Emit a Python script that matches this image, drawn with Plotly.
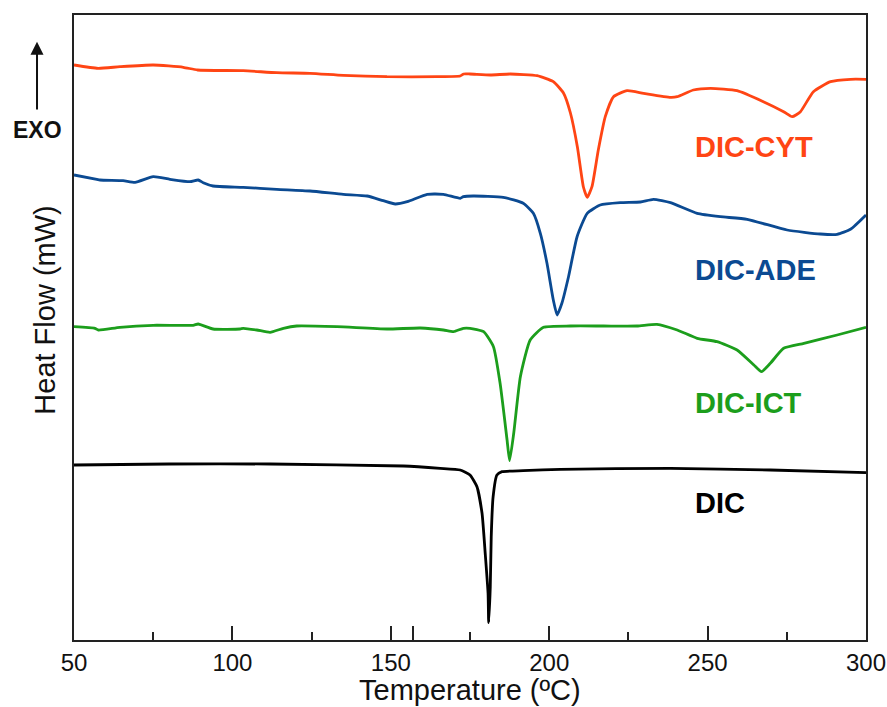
import plotly.graph_objects as go

# ---- data (temperature in °C, heat flow in arbitrary mW units, offset per curve) ----
cyt_T = [50, 57.6, 64.5, 75, 84.5, 89, 103.4, 114, 124.5, 135, 148.8, 164.6, 171.9, 173, 175,
         181.4, 187.7, 196.2, 201.3, 204.5, 206.7, 208.9, 210.8, 212, 213.5, 215.5, 217.7, 220.3,
         224.6, 229.8, 238.3, 240.4, 245.5, 250.9, 259.3, 267.6, 274, 276.7, 279.3, 283.4, 288.8,
         295.1, 300]
cyt_HF = [5.75, 5.717, 5.733, 5.75, 5.727, 5.70, 5.693, 5.673, 5.667, 5.647, 5.633, 5.633, 5.64,
          5.66, 5.66, 5.65, 5.66, 5.643, 5.583, 5.47, 5.27, 4.93, 4.53, 4.427, 4.533, 4.90, 5.233,
          5.433, 5.493, 5.467, 5.427, 5.433, 5.50, 5.517, 5.493, 5.383, 5.283, 5.233, 5.283, 5.483,
          5.583, 5.607, 5.607]

ade_T = [50, 57.2, 58.2, 65.5, 69.3, 75, 80.3, 86.6, 89.2, 90.8, 93.9, 103.4, 114, 124.5, 135,
         142.5, 147.6, 151.4, 155.2, 161.5, 166.6, 171.9, 172.9, 176, 185.5, 191.8, 195, 197.2,
         199.3, 201.3, 202.5, 204, 206.1, 208.8, 212, 216.1, 222.5, 228.8, 232.9, 238.3, 246.7,
         254, 262.5, 275.1, 285.6, 290.9, 295.1, 300]
ade_HF = [4.65, 4.607, 4.60, 4.593, 4.577, 4.633, 4.607, 4.583, 4.60, 4.573, 4.54, 4.527, 4.507,
          4.49, 4.457, 4.44, 4.393, 4.36, 4.383, 4.457, 4.457, 4.417, 4.433, 4.44, 4.427, 4.367,
          4.267, 4.067, 3.767, 3.40, 3.25, 3.367, 3.633, 4.033, 4.267, 4.35, 4.373, 4.38, 4.407,
          4.373, 4.267, 4.233, 4.207, 4.10, 4.06, 4.057, 4.107, 4.25]

ict_T = [50, 56.6, 57.7, 64.5, 75, 87.6, 89.2, 93.9, 102.4, 103.4, 107.7, 111.9, 116.1, 120.3,
         133, 148.8, 159.3, 166.6, 169.8, 172.9, 175, 179.3, 182.4, 184.5, 186.7, 187.5, 188.8,
         190.9, 194, 198.2, 206.7, 217.2, 227.7, 234, 240.4, 246.7, 253, 259.3, 264.6, 267,
         269.8, 274, 280.4, 290.9, 300]
ict_HF = [3.133, 3.117, 3.10, 3.127, 3.147, 3.147, 3.16, 3.11, 3.11, 3.117, 3.10, 3.077, 3.117,
          3.14, 3.133, 3.11, 3.12, 3.10, 3.083, 3.117, 3.117, 3.083, 2.933, 2.567, 2.00, 1.793,
          2.067, 2.633, 3.00, 3.127, 3.14, 3.14, 3.14, 3.157, 3.10, 3.017, 2.983, 2.90, 2.75,
          2.683, 2.767, 2.917, 2.967, 3.05, 3.127]

dic_T = [50, 80, 112, 154, 165.6, 171.9, 175, 177.2, 178.8, 179.8, 180.7, 180.9, 181.4, 181.7,
         182.3, 183.5, 185.1, 191.8, 203.5, 238.3, 269.8, 300]
dic_HF = [1.75, 1.76, 1.76, 1.74, 1.717, 1.70, 1.65, 1.533, 1.267, 0.867, 0.467, 0.173, 0.533,
          1.033, 1.433, 1.65, 1.683, 1.693, 1.707, 1.717, 1.70, 1.673]

series_names = ["DIC-CYT", "DIC-ADE", "DIC-ICT", "DIC"]
series_colors = ["#ff4514", "#0b4a92", "#1c9e1c", "#000000"]
label_y = [4.93, 3.70, 2.37, 1.37]

x_ticks = [50, 100, 150, 157, 200, 250, 300]
x_ticktext = ["50", "100", "150", "", "200", "250", "300"]
x_minor = [75, 125, 175, 225, 275]

FONT = "Liberation Sans, Arial, sans-serif"

fig = go.Figure()
data = [(cyt_T, cyt_HF), (ade_T, ade_HF), (ict_T, ict_HF), (dic_T, dic_HF)]
for (t, h), name, col in zip(data, series_names, series_colors):
    fig.add_trace(go.Scatter(x=t, y=h, mode="lines", name=name,
                             line=dict(color=col, width=2.8, shape="spline", smoothing=0.5),
                             showlegend=False, hoverinfo="skip"))

for name, col, ly in zip(series_names, series_colors, label_y):
    fig.add_annotation(x=245.3, y=ly, xref="x", yref="y", text="<b>%s</b>" % name,
                       showarrow=False, xanchor="left", yanchor="middle",
                       font=dict(family=FONT, size=29, color=col))

# EXO arrow and label
fig.add_annotation(x=-0.0467, y=0.957, xref="paper", yref="paper", text="",
                   showarrow=True, ax=0, ay=69, axref="pixel", ayref="pixel",
                   arrowhead=2, arrowsize=1.3, arrowwidth=2, arrowcolor="#111111")
fig.add_annotation(x=-0.0467, y=0.816, xref="paper", yref="paper", text="<b>EXO</b>",
                   showarrow=False, xanchor="center", yanchor="middle",
                   font=dict(family=FONT, size=23, color="#111111"))

# axis titles
fig.add_annotation(x=0.5, y=-0.08, xref="paper", yref="paper", text="Temperature (ºC)",
                   showarrow=False, xanchor="center", yanchor="middle",
                   font=dict(family=FONT, size=29, color="#111111"))
fig.add_annotation(x=-0.037, y=0.528, xref="paper", yref="paper", text="Heat Flow (mW)",
                   showarrow=False, textangle=-90, xanchor="center", yanchor="middle",
                   font=dict(family=FONT, size=29, color="#111111"))

fig.update_layout(
    width=887, height=707,
    margin=dict(l=74, r=21, t=15, b=67, autoexpand=False),
    paper_bgcolor="white", plot_bgcolor="white",
    font=dict(family=FONT, color="#111111"),
    xaxis=dict(range=[50, 300], tickmode="array", tickvals=x_ticks, ticktext=x_ticktext,
               automargin=False,
               ticks="inside", ticklen=14, tickwidth=1.5, tickcolor="#222222",
               minor=dict(tickmode="array", tickvals=x_minor, ticks="inside", ticklen=8,
                          tickwidth=1.5, tickcolor="#222222", showgrid=False),
               showline=True, linecolor="#222222", linewidth=2, mirror=True,
               showgrid=False, zeroline=False,
               tickfont=dict(family=FONT, size=24, color="#111111")),
    yaxis=dict(range=[0, 6.25], showticklabels=False, ticks="", automargin=False,
               showline=True, linecolor="#222222", linewidth=2, mirror=True,
               showgrid=False, zeroline=False),
)

fig.write_html("out.html")
